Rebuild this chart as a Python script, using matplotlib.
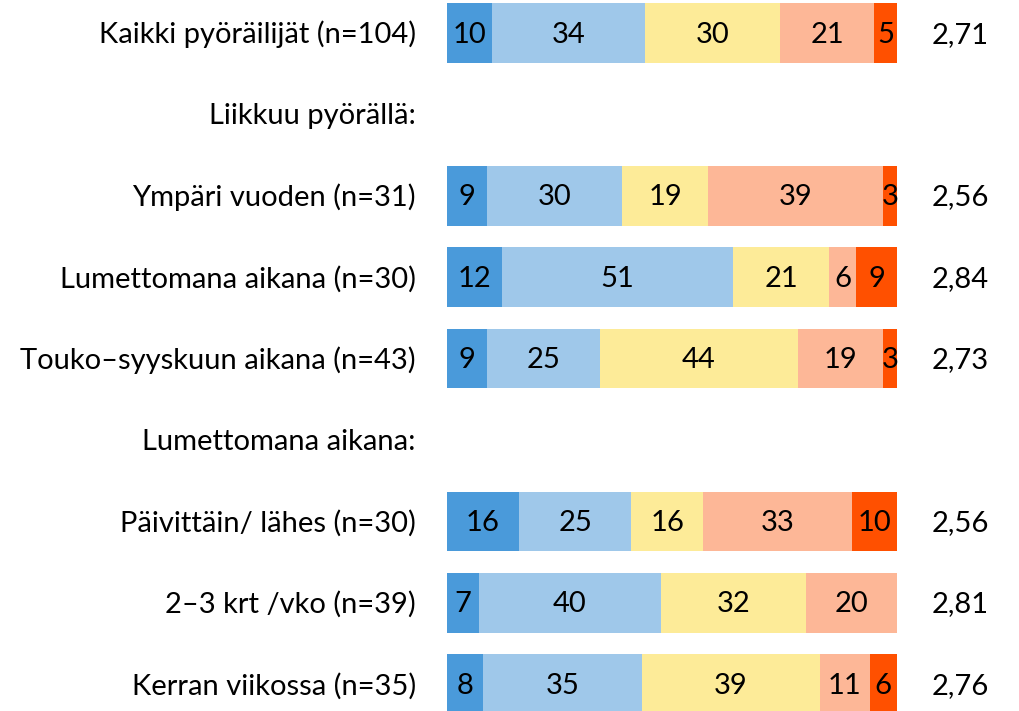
import numpy as np
import matplotlib.pyplot as plt

plt.rcParams['font.family'] = ['Lato', 'DejaVu Sans']

# rows top to bottom; headings have no bar
labels = [
    "Kaikki pyöräilijät (n=104)",
    "Liikkuu pyörällä:",
    "Ympäri vuoden (n=31)",
    "Lumettomana aikana (n=30)",
    "Touko\u2013syyskuun aikana (n=43)",
    "Lumettomana aikana:",
    "Päivittäin/ lähes (n=30)",
    "2\u20133 krt /vko (n=39)",
    "Kerran viikossa (n=35)",
]
is_heading = [False, True, False, False, False, True, False, False, False]

# percentage shares per answer class, one list per bar row
shares = [
    [10, 34, 30, 21, 5],
    [9, 30, 19, 39, 3],
    [12, 51, 21, 6, 9],
    [9, 25, 44, 19, 3],
    [16, 25, 16, 33, 10],
    [7, 40, 32, 20, 0],
    [8, 35, 39, 11, 6],
]
means = ["2,71", "2,56", "2,84", "2,73", "2,56", "2,81", "2,76"]

colors = ["#4A9ADA", "#9FC8EA", "#FDEB98", "#FDB797", "#FF5000"]

fig = plt.figure(figsize=(10.2, 7.11), dpi=100)
ax = fig.add_axes([447 / 1020, 0, 450 / 1020, 1])

fs = 21
bar_i = 0
for i, lab in enumerate(labels):
    ax.text(-6.9, i + 0.02, lab, ha="right", va="center", fontsize=fs, clip_on=False)
    if is_heading[i]:
        continue
    vals = np.array(shares[bar_i], dtype=float)
    # scale rounded shares so every bar fills the full width
    widths = vals / vals.sum() * 100
    lefts = np.concatenate([[0], np.cumsum(widths)[:-1]])
    for v, w, l, c in zip(vals, widths, lefts, colors):
        if v == 0:
            continue
        ax.barh(i, w, left=l, height=0.73, color=c, edgecolor="none")
        ax.text(l + w / 2, i + 0.02, f"{int(v)}", ha="center", va="center", fontsize=fs)
    ax.text(107.8, i + 0.02, means[bar_i], ha="left", va="center", fontsize=fs, clip_on=False)
    bar_i += 1

ax.set_xlim(0, 100)
ax.set_ylim((711 - 33) / 81.4, -33 / 81.4)
ax.axis("off")

fig.savefig("out.png", dpi=100)
